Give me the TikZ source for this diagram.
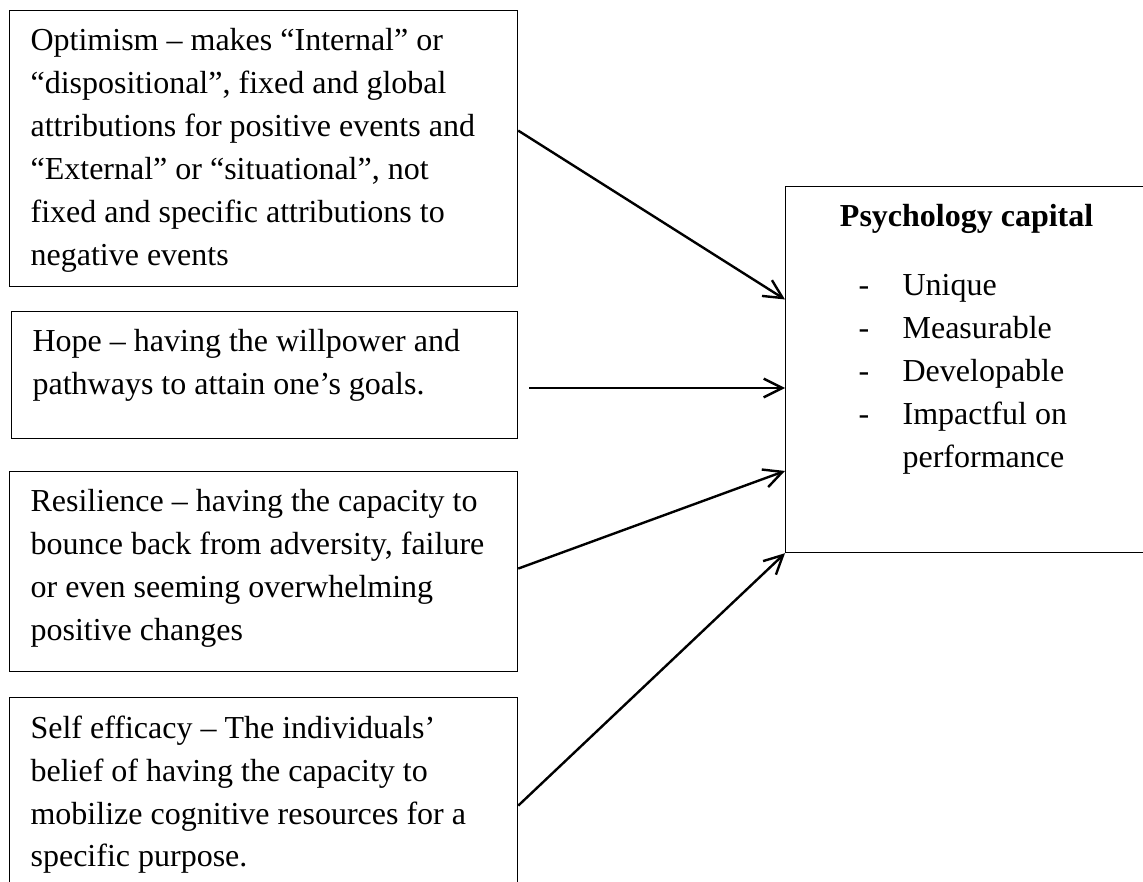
\documentclass[tikz,border=0pt]{standalone}
\usepackage{fontspec}
\setmainfont{Liberation Serif}
\usepackage{tikz}
\usetikzlibrary{calc,arrows.meta}
\newcommand{\pixelsize}{0.375pt}
\newcommand{\boxtext}[3]{\parbox[c][#2][t]{#1}{\raggedright #3}}
\newcommand{\capitem}[1]{\hspace*{19.5pt}\makebox[16.5pt][l]{-}#1}
\tikzset{
	factor/.style={draw, line width=0.45pt, anchor=north west,
		inner xsep=7.875pt, inner ysep=6.75pt,
		font=\fontsize{12pt}{16.1pt}\selectfont},
	link/.style={line width=0.9pt, -{Straight Barb[length=7pt,width=7pt]}}
}

\begin{document}
\begin{tikzpicture}[x=\pixelsize,y=-\pixelsize]
	\clip (0,0) rectangle (1143,881);

	\node[factor] (optimism) at (9,10) {\boxtext{174.75pt}{90pt}{Optimism – makes “Internal” or\\
		“dispositional”, fixed and global\\
		attributions for positive events and\\
		“External” or “situational”, not\\
		fixed and specific attributions to\\
		negative events}};
	\node[factor] (hope) at (11,311) {\boxtext{174pt}{34.125pt}{Hope – having the willpower and\\
		pathways to attain one’s goals.}};
	\node[factor] (resilience) at (9,471) {\boxtext{174.75pt}{61.5pt}{Resilience – having the capacity to\\
		bounce back from adversity, failure\\
		or even seeming overwhelming\\
		positive changes}};
	\node[factor] (efficacy) at (9,697) {\boxtext{174.75pt}{61.5pt}{Self efficacy – The individuals’\\
		belief of having the capacity to\\
		mobilize cognitive resources for a\\
		specific purpose.}};

	\node[factor] (capital) at (785,186) {\parbox[c][123.75pt][t]{120pt}{\centering\textbf{Psychology capital}\par
		\vspace{9.8pt}\raggedright
		\capitem{Unique}\\
		\capitem{Measurable}\\
		\capitem{Developable}\\
		\capitem{Impactful on}\\
		\hspace*{36pt}performance}};

	\coordinate (hopeout) at (529,388);

	\draw[link] ($(optimism.north east)!0.435!(optimism.south east)$) -- ($(capital.north west)!0.309!(capital.south west)$);
	\draw[link] (hopeout) -- (hopeout -| capital.west);
	\draw[link] ($(resilience.north east)!0.485!(resilience.south east)$) -- ($(capital.north west)!0.776!(capital.south west)$);
	\draw[link] ($(efficacy.north east)!0.54!(efficacy.south east)$) -- (capital.south west);
\end{tikzpicture}
\end{document}
